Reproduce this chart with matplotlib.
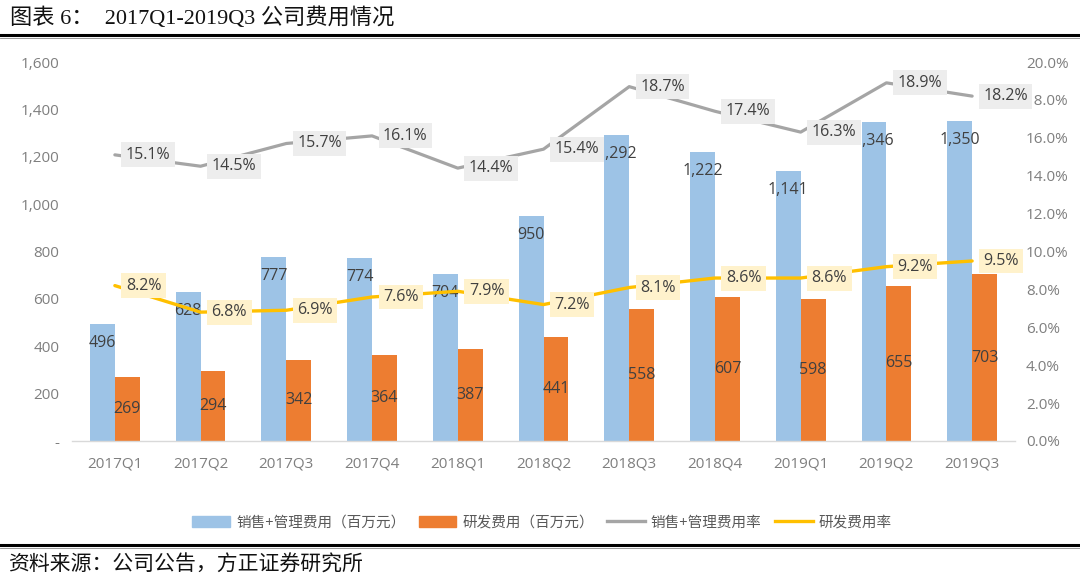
import matplotlib
matplotlib.use("Agg")
import matplotlib.pyplot as plt
from matplotlib.lines import Line2D
from matplotlib.patches import Patch
import numpy as np

plt.rcParams['font.family'] = ['Open Sans', 'Noto Sans CJK SC', 'DejaVu Sans']

categories = ["2017Q1", "2017Q2", "2017Q3", "2017Q4", "2018Q1", "2018Q2",
              "2018Q3", "2018Q4", "2019Q1", "2019Q2", "2019Q3"]
sales_admin = [496, 628, 777, 774, 704, 950, 1292, 1222, 1141, 1346, 1350]
rnd = [269, 294, 342, 364, 387, 441, 558, 607, 598, 655, 703]
sales_admin_rate = [15.1, 14.5, 15.7, 16.1, 14.4, 15.4, 18.7, 17.4, 16.3, 18.9, 18.2]
rnd_rate = [8.2, 6.8, 6.9, 7.6, 7.9, 7.2, 8.1, 8.6, 8.6, 9.2, 9.5]
left_ticks = [0, 200, 400, 600, 800, 1000, 1200, 1400, 1600]
left_ticklabels = ["-", "200", "400", "600", "800", "1,000", "1,200", "1,400", "1,600"]
right_ticks = [0, 2, 4, 6, 8, 10, 12, 14, 16, 18, 20]

title = "图表 6：  2017Q1-2019Q3 公司费用情况"
source = "资料来源：公司公告，方正证券研究所"
legend_labels = ["销售+管理费用（百万元）", "研发费用（百万元）", "销售+管理费用率", "研发费用率"]

BLUE = "#9DC3E6"
ORANGE = "#ED7D31"
GRAY = "#A5A5A5"
YELLOW = "#FFC000"
TICK_C = "#7F7F7F"
LAB_C = "#404040"

W, H = 1080, 579
fig = plt.figure(figsize=(W / 100, H / 100), dpi=100)

ax = fig.add_axes([72 / W, 1 - 441 / H, (1015 - 72) / W, (441 - 62) / H])
ax2 = ax.twinx()

x = np.arange(len(categories))
bw = 0.29
ax.bar(x - bw / 2, sales_admin, bw, color=BLUE, zorder=2)
ax.bar(x + bw / 2, rnd, bw, color=ORANGE, zorder=2)

ax.set_xlim(-0.5, len(categories) - 0.5)
ax.set_ylim(0, 1600)
ax.set_yticks(left_ticks)
ax.set_yticklabels(left_ticklabels)
ax.set_xticks(x)
ax.set_xticklabels(categories)
ax.tick_params(axis='both', length=0, labelsize=11, colors=TICK_C)
ax.tick_params(axis='y', pad=9)
ax.tick_params(axis='x', pad=11)
for s in ['top', 'right', 'left']:
    ax.spines[s].set_visible(False)
ax.spines['bottom'].set_color("#D9D9D9")
ax.spines['bottom'].set_linewidth(1.0)

ax2.set_ylim(0, 20)
ax2.set_yticks(right_ticks)
ax2.set_yticklabels([f"{v:.1f}%" for v in right_ticks])
ax2.tick_params(axis='y', length=0, labelsize=11, colors=TICK_C, pad=8)
for s in ax2.spines.values():
    s.set_visible(False)

ax2.plot(x, sales_admin_rate, color=GRAY, lw=2.3, zorder=3, solid_capstyle='round')
ax2.plot(x, rnd_rate, color=YELLOW, lw=2.4, zorder=3, solid_capstyle='round')

# bar labels
for xi, v in zip(x, sales_admin):
    ax.annotate(f"{v:,}", (xi - bw / 2, v), xytext=(0, -19), textcoords='offset pixels',
                ha='center', va='center', fontsize=11.5, color=LAB_C, zorder=4)
for xi, v in zip(x, rnd):
    ax.annotate(f"{v:,}", (xi + bw / 2, v / 2), ha='center', va='center',
                fontsize=11.5, color=LAB_C, zorder=4)

# rate labels
for xi, v in zip(x, sales_admin_rate):
    ax2.annotate(f"{v:.1f}%", (xi, v), xytext=(11, 0), textcoords='offset pixels',
                 ha='left', va='center', fontsize=11.5, color=LAB_C, zorder=6,
                 bbox=dict(boxstyle='square,pad=0.28', fc="#EDEDED", ec='none'))
for xi, v in zip(x, rnd_rate):
    ax2.annotate(f"{v:.1f}%", (xi, v), xytext=(11, 0), textcoords='offset pixels',
                 ha='left', va='center', fontsize=11.5, color=LAB_C, zorder=6,
                 bbox=dict(boxstyle='square,pad=0.28', fc="#FFF2CC", ec='none'))

# legend
handles = [Patch(color=BLUE), Patch(color=ORANGE),
           Line2D([0], [0], color=GRAY, lw=2.4), Line2D([0], [0], color=YELLOW, lw=2.4)]
fig.legend(handles, legend_labels, loc='center', bbox_to_anchor=(542 / W, 1 - 523 / H),
           ncol=4, frameon=False, fontsize=10.5, labelcolor="#595959",
           handlelength=2.6, handleheight=0.7, handletextpad=0.4, columnspacing=0.9)

# title and rules
fig.text(10 / W, 1 - 18 / H, title, fontsize=16, color="#111111", ha='left', va='center',
         family=['Liberation Serif', 'Noto Sans CJK SC', 'DejaVu Sans'])
fig.add_artist(Line2D([0, 1], [1 - 35 / H, 1 - 35 / H], color='black', lw=2.2))
fig.add_artist(Line2D([0, 1], [1 - 38 / H, 1 - 38 / H], color='#888888', lw=0.6))
fig.add_artist(Line2D([0, 1], [1 - 545 / H, 1 - 545 / H], color='black', lw=2.2))
fig.add_artist(Line2D([0, 1], [1 - 548 / H, 1 - 548 / H], color='#888888', lw=0.6))
fig.text(8 / W, 1 - 565 / H, source, fontsize=15, color="#111111", ha='left', va='center',
         style='italic', family=['Noto Sans CJK SC', 'DejaVu Sans'])

fig.savefig("out.png", dpi=100)
